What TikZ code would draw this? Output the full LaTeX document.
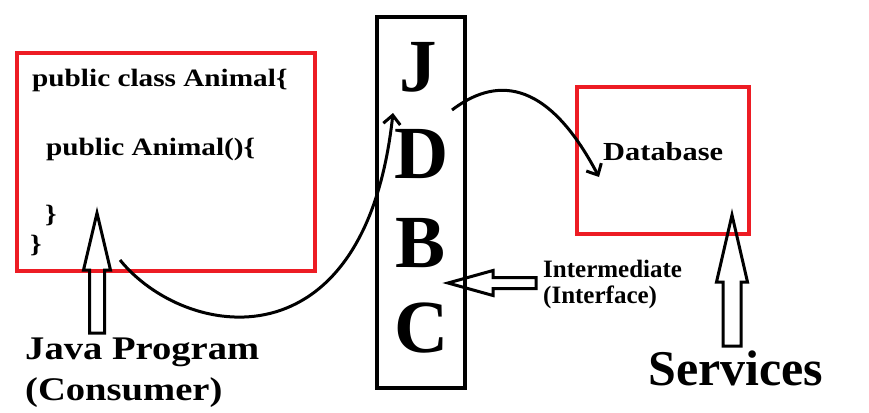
\documentclass[tikz,border=0pt]{standalone}
\usepackage{fontspec}
\setmainfont{Liberation Serif}
\newfontfamily\codefont[FakeStretch=1.17]{Liberation Serif}
\usetikzlibrary{arrows.meta, positioning}

\definecolor{paintred}{RGB}{237,28,36}

\begin{document}
\begin{tikzpicture}[
    x=1pt, y=-1pt,
    % Red outline boxes
    redbox/.style={
        rectangle,
        draw=paintred,
        line width=3.5pt,
        inner sep=0pt
    },
    % JDBC column
    jdbcbox/.style={
        rectangle,
        draw=black,
        line width=3.5pt,
        minimum width=88pt,
        minimum height=371pt,
        inner sep=0pt
    },
    % Big JDBC letters
    letter/.style={
        anchor=base,
        inner sep=0pt,
        font=\fontsize{75}{80}\selectfont\bfseries
    },
    % Code lines
    code/.style={
        anchor=base west,
        inner sep=0pt,
        font=\codefont\fontsize{25}{28}\selectfont\bfseries
    },
    label/.style={
        anchor=base west,
        inner sep=0pt,
        font=\codefont\fontsize{33}{36}\selectfont\bfseries
    },
    small/.style={
        anchor=base west,
        inner sep=0pt,
        font=\fontsize{25}{28}\selectfont\bfseries
    },
    % Hollow block arrows
    hollow/.style={
        draw=black,
        line width=3pt,
        line join=miter
    },
    % Curved arrows
    curve/.style={
        line width=3pt,
        -{Straight Barb[length=9pt,width=17pt,line width=3pt]}
    }
]

\useasboundingbox (0,0) rectangle (869,412);

% === Java program box ===
\node[redbox, minimum width=298pt, minimum height=218pt] (program) at (166,162) {};
\node[code] (line1) at (32,86) {public class Animal\{};
\node[code] (line2) at (46,155) {public Animal()\{};
\node[code] (close1) at (45,222) {\}};
\node[code] (close2) at (30,252) {\}};
\coordinate (progout) at (120,260);

% === JDBC column ===
\node[jdbcbox] (jdbc) at (421,202.5) {};
\node[letter] (J) at (418,91) {J};
\node[letter] (D) at (422,178) {D};
\node[letter] (B) at (421,267) {B};
\node[letter] (C) at (422,352) {C};
\coordinate (jdbcin) at (393,113);
\coordinate (jdbcout) at (452,110);

% === Database box ===
\node[redbox, minimum width=172pt, minimum height=147pt] (database) at (663,160.5) {};
\node[code, font=\codefont\fontsize{26}{28}\selectfont\bfseries] (dbtext) at (603,160) {Database};
\coordinate (dbin) at (599,177);

% === Labels ===
\node[label] (java) at (25,359) {Java Program};
\node[label] (consumer) at (25,400) {(Consumer)};
\node[small] (inter) at (543,277) {Intermediate};
\node[small] (iface) at (543,303) {(Interface)};
\node[anchor=base west, inner sep=0pt, font=\fontsize{50}{54}\selectfont\bfseries] (services) at (648,385) {Services};

% === Hollow arrows ===
\coordinate (tipprog) at (97,213);
\coordinate (tipjdbc) at (448,283);
\coordinate (tipdb) at (732,215);

\draw[hollow] (tipprog) -- ++(13.5,57) -- ++(-6,0) -- ++(0,63) -- ++(-15,0)
    -- ++(0,-63) -- ++(-6,0) -- cycle;
\draw[hollow] (tipjdbc) -- ++(45,-12.5) -- ++(0,7) -- ++(43,0) -- ++(0,11)
    -- ++(-43,0) -- ++(0,7) -- cycle;
\draw[hollow] (tipdb) -- ++(15.5,67) -- ++(-6.5,0) -- ++(0,64) -- ++(-18,0)
    -- ++(0,-64) -- ++(-6.5,0) -- cycle;

% === Curved connectors ===
\draw[curve] (progout) .. controls (185,340) and (365,370) .. (jdbcin);
\draw[curve] (jdbcout) .. controls (485,85) and (540,65) .. (dbin);

\end{tikzpicture}
\end{document}
